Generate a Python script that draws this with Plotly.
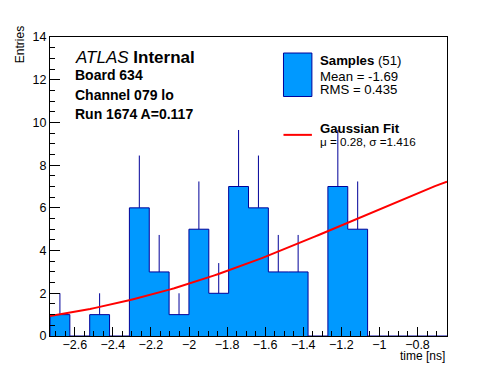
import numpy as np
import plotly.graph_objects as go

# ---- data ----
x_min, x_max, n_bins = -2.73, -0.645, 20
counts = [1, 0, 1, 0, 6, 3, 1, 5, 2, 7, 6, 3, 3, 0, 7, 5, 0, 0, 0, 0]
fit_mu, fit_sigma, fit_amp = 0.28, 1.416, 8.95
n_entries, mean_val, rms_val = 51, -1.69, 0.435
info_lines = ["Board 634", "Channel 079 lo", "Run 1674 A=0.117"]

# page is 496x372; the html body has an 8px margin, so the figure starts at (8, 8)
OFF = 8
W, H = 496 - OFF, 372 - OFF
L, R, T, B = 50 - OFF, 49.3, 37.3 - OFF, 36.2
PW, PH = W - L - R, H - T - B

def px(x):  # page pixel -> paper
    return (x - OFF - L) / PW

def py(y):
    return (H + OFF - B - y) / PH

edges = np.linspace(x_min, x_max, n_bins + 1)
centers = 0.5 * (edges[:-1] + edges[1:])

FONT = "Liberation Sans, Arial, Helvetica, sans-serif"
FILL = "rgb(0,153,255)"
NAVY = "rgb(0,0,153)"

fig = go.Figure()

# error bars (upper half, visible above fill)
ex, ey = [], []
for c, n in zip(centers, counts):
    if n > 0:
        ex += [c, c, None]
        ey += [n, n + np.sqrt(n), None]
fig.add_trace(go.Scatter(x=ex, y=ey, mode="lines", line=dict(color=NAVY, width=1),
                         hoverinfo="skip", showlegend=False))

# histogram step outline with fill
sx = [edges[0]] + list(edges[:-1]) + [edges[-1], edges[-1]]
sy = [0] + list(counts) + [counts[-1], 0]
fig.add_trace(go.Scatter(x=sx, y=sy, mode="lines", line=dict(color=NAVY, width=1, shape="hv"),
                         fill="tozeroy", fillcolor=FILL, showlegend=False))

# gaussian fit
fx = np.linspace(x_min, x_max, 100)
fy = fit_amp * np.exp(-0.5 * ((fx - fit_mu) / fit_sigma) ** 2)
fig.add_trace(go.Scatter(x=fx, y=fy, mode="lines", line=dict(color="red", width=2),
                         showlegend=False))

fig.update_layout(
    width=W, height=H,
    margin=dict(l=L, r=R, t=T, b=B, pad=0),
    paper_bgcolor="white", plot_bgcolor="white",
    font=dict(family=FONT, size=12.5, color="black"),
    showlegend=False,
)
fig.update_xaxes(range=[x_min, x_max], showgrid=False, zeroline=False,
                 showline=True, linecolor="black", linewidth=1, mirror=True,
                 ticks="inside", ticklen=9, tickcolor="black", dtick=0.2, tick0=0,
                 minor=dict(ticks="inside", ticklen=5, dtick=0.05, tick0=0, tickcolor="black", showgrid=False),
                 tickfont=dict(size=12.5), ticklabelstandoff=-3)
fig.update_yaxes(range=[0, 14], showgrid=False, zeroline=False,
                 showline=True, linecolor="black", linewidth=1, mirror=True,
                 ticks="inside", ticklen=10, tickcolor="black", dtick=2, tick0=0,
                 minor=dict(ticks="inside", ticklen=5, dtick=0.5, tick0=0, tickcolor="black", showgrid=False),
                 tickfont=dict(size=12.5))

ann = []
ann.append(dict(text="Entries", x=px(20), y=py(24), xref="paper", yref="paper",
                xanchor="center", yanchor="top", textangle=-90, showarrow=False,
                font=dict(size=12)))
ann.append(dict(text="time [ns]", x=px(447), y=py(355.5), xref="paper", yref="paper",
                xanchor="right", yanchor="middle", showarrow=False, font=dict(size=12)))
ann.append(dict(text="<i>ATLAS</i> <b>Internal</b>", x=px(72.7), y=py(58), xref="paper", yref="paper",
                xanchor="left", yanchor="middle", showarrow=False, font=dict(size=17)))
for i, t in enumerate(info_lines):
    ann.append(dict(text="<b>%s</b>" % t, x=px(73), y=py(75.5 + 19.5 * i), xref="paper", yref="paper",
                    xanchor="left", yanchor="middle", showarrow=False, font=dict(size=14)))
# legend
LX = 317.5
ann.append(dict(text="<b>Samples</b> (%d)" % n_entries, x=px(LX), y=py(60.5), xref="paper", yref="paper",
                xanchor="left", yanchor="middle", showarrow=False, font=dict(size=13.2)))
ann.append(dict(text="Mean = %.2f" % mean_val, x=px(LX), y=py(76.5), xref="paper", yref="paper",
                xanchor="left", yanchor="middle", showarrow=False, font=dict(size=13.2)))
ann.append(dict(text="RMS = %.3f" % rms_val, x=px(LX), y=py(89.5), xref="paper", yref="paper",
                xanchor="left", yanchor="middle", showarrow=False, font=dict(size=13.2)))
ann.append(dict(text="<b>Gaussian Fit</b>", x=px(LX), y=py(128.3), xref="paper", yref="paper",
                xanchor="left", yanchor="middle", showarrow=False, font=dict(size=13.2)))
ann.append(dict(text="μ = %.2f, σ =%.3f" % (fit_mu, fit_sigma), x=px(LX), y=py(141.7), xref="paper", yref="paper",
                xanchor="left", yanchor="middle", showarrow=False, font=dict(size=11.7)))
fig.update_layout(annotations=ann)

fig.add_shape(type="rect", xref="paper", yref="paper", x0=px(283.3), x1=px(311.7), y0=py(96.7), y1=py(53.3),
              fillcolor=FILL, line=dict(color=NAVY, width=1))
fig.add_shape(type="line", xref="paper", yref="paper", x0=px(283.3), x1=px(311.7), y0=py(135), y1=py(135),
              line=dict(color="red", width=2))

fig.write_html("out.html")
